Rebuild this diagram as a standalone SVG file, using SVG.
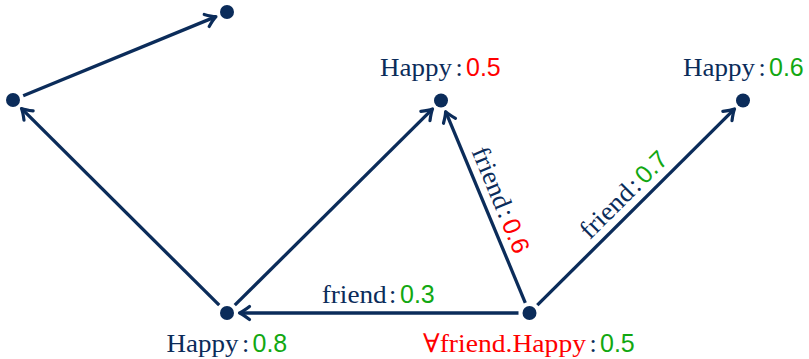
<svg xmlns="http://www.w3.org/2000/svg" width="809" height="359" viewBox="0 0 809 359">
<style>
.edge{stroke:#0b2c5a;stroke-width:3.3;fill:none;marker-end:url(#arr)}
.node{fill:#0b2c5a}
.s{font-family:"Liberation Serif","DejaVu Serif",serif;font-size:26px;fill:#0b2c5a}
.n{font-family:"Liberation Sans","DejaVu Sans",sans-serif;font-size:25px}
.g{fill:#12a812}
.r{fill:#ff0000}
.c{text-anchor:middle}
</style>
<defs>
<marker id="arr" markerUnits="userSpaceOnUse" orient="auto" refX="-2" refY="0" markerWidth="20" markerHeight="20" viewBox="-14 -10 20 20" overflow="visible">
<path d="M-10,-6.5 Q-4,-1.8 0,0 Q-4,1.8 -10,6.5" fill="none" stroke="#0b2c5a" stroke-width="3.2" stroke-linecap="round" stroke-linejoin="round"/>
</marker>
</defs>
<g id="connectors">
<line class="edge" x1="23.2" y1="95.8" x2="214.1" y2="17.4"/>
<line class="edge" x1="219.2" y1="305.2" x2="22.9" y2="109.9"/>
<line class="edge" x1="234.8" y1="305.2" x2="431.1" y2="110.4"/>
<line class="edge" x1="525.3" y1="302.8" x2="446.4" y2="113.4"/>
<line class="edge" x1="537.3" y1="305.2" x2="733.1" y2="110.4"/>
<line class="edge" x1="518.5" y1="313" x2="241.5" y2="313"/>
<g id="label-fe">
<text class="s" x="321.7" y="303.3" textLength="65" lengthAdjust="spacingAndGlyphs">friend</text>
<text class="s c" x="392.7" y="303.3">:</text>
<text class="n g" x="400" y="303.3">0.3</text>
</g>
<g id="label-fc" transform="translate(485.25,206.75) rotate(67.4)">
<text class="s" x="-56.7" y="-8.5" textLength="65" lengthAdjust="spacingAndGlyphs">friend</text>
<text class="s c" x="14.3" y="-8.5">:</text>
<text class="n r" x="21.3" y="-8.5">0.6</text>
</g>
<g id="label-fd" transform="translate(636.25,206.75) rotate(-44.85)">
<text class="s" x="-56.7" y="-9" textLength="65" lengthAdjust="spacingAndGlyphs">friend</text>
<text class="s c" x="14.3" y="-9">:</text>
<text class="n g" x="21.3" y="-9">0.7</text>
</g>
</g>
<g id="node-top"><circle class="node" cx="227" cy="12" r="7"/></g>
<g id="node-left"><circle class="node" cx="13" cy="100" r="7"/></g>
<g id="node-mid">
<circle class="node" cx="441" cy="100.5" r="7"/>
<text class="s" x="380" y="76" textLength="72" lengthAdjust="spacingAndGlyphs">Happy</text>
<text class="s c" x="459" y="76">:</text>
<text class="n r" x="466" y="76">0.5</text>
</g>
<g id="node-right">
<circle class="node" cx="743" cy="100.5" r="7"/>
<text class="s" x="683" y="76" textLength="72" lengthAdjust="spacingAndGlyphs">Happy</text>
<text class="s c" x="762" y="76">:</text>
<text class="n g" x="769" y="76">0.6</text>
</g>
<g id="node-bottom-left">
<circle class="node" cx="227" cy="313" r="7"/>
<text class="s" x="166.5" y="352" textLength="72" lengthAdjust="spacingAndGlyphs">Happy</text>
<text class="s c" x="245.5" y="352">:</text>
<text class="n g" x="252.5" y="352">0.8</text>
</g>
<g id="node-bottom-right">
<circle class="node" cx="529.5" cy="313" r="7"/>
<text class="s r" x="423" y="352" textLength="163" lengthAdjust="spacingAndGlyphs">∀friend.Happy</text>
<text class="s c" x="593" y="352">:</text>
<text class="n g" x="600" y="352">0.5</text>
</g>
</svg>
